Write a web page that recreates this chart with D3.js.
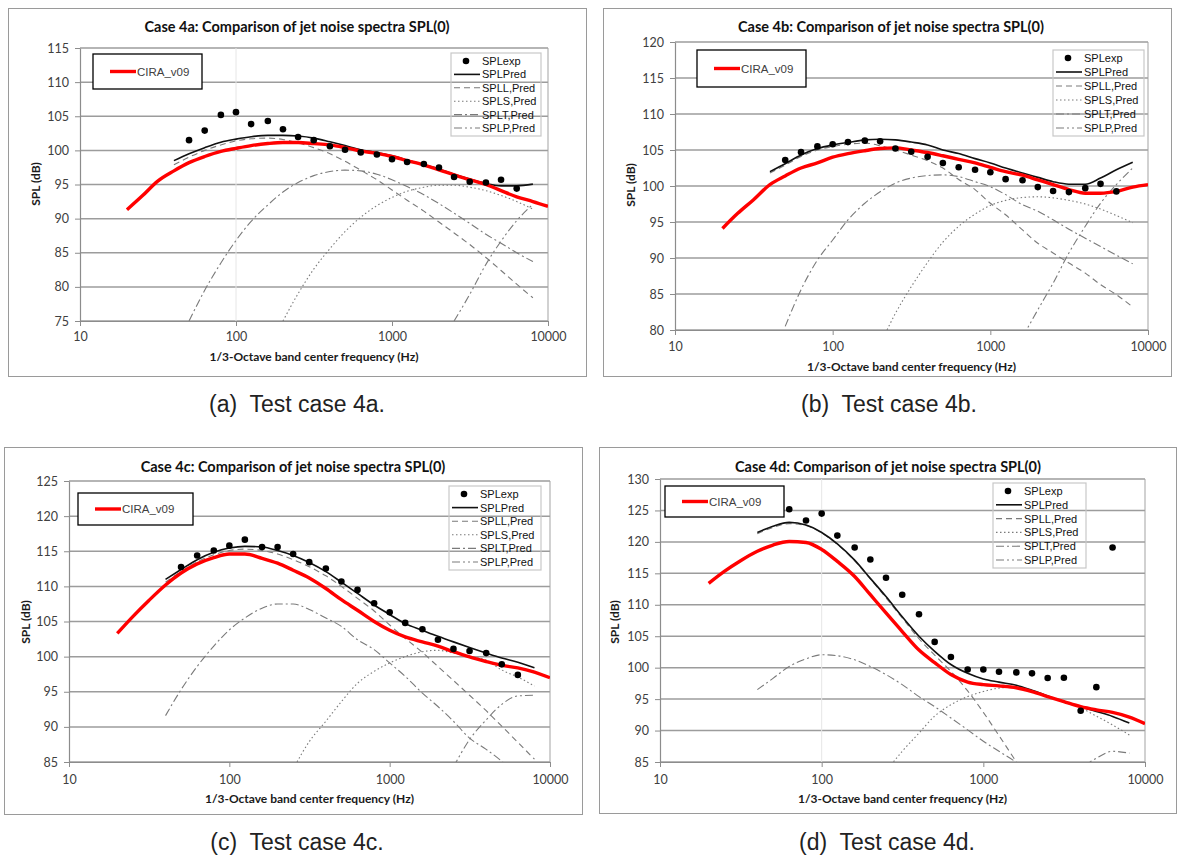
<!DOCTYPE html>
<html>
<head>
<meta charset="utf-8">
<script src="https://cdn.jsdelivr.net/npm/d3@7"></script>
<style>
  body { margin: 0; background: #fff; }
</style>
</head>
<body>
<svg id="fig" width="1177" height="856"></svg>
<script>
// 1/3-octave band centre frequencies (Hz)
var freqs = [20, 25, 31.5, 40, 50, 63, 80, 100, 125, 160, 200, 250, 315, 400, 500, 630,
             800, 1000, 1250, 1600, 2000, 2500, 3150, 4000, 5000, 6300, 8000, 10000];
var xTicks = [10, 100, 1000, 10000];

// ---- case 4a ----
var expA  = [101.5, 102.9, 105.2, 105.6, 103.85, 104.3, 103.1, 101.95, 101.5, 100.6, 100.1, 99.7, 99.4, 98.7, 98.3, 98.0, 97.5, 96.1, 95.4, 95.3, 95.7, 94.4];
var predA = [98.5, 99.5, 100.4, 101.2, 101.65, 102.0, 102.2, 102.2, 102.1, 101.8, 101.25, 100.7, 100.1, 99.7, 99.2, 98.6, 97.9, 97.25, 96.5, 95.8, 95.15, 94.8, 94.8, 95.05];
var ciraA = [91.3, 93.3, 95.5, 97.0, 98.2, 99.1, 99.85, 100.3, 100.7, 101.0, 101.15, 101.15, 101.0, 100.8, 100.4, 99.9, 99.55, 99.1, 98.5, 97.85, 97.15, 96.4, 95.7, 95.0, 94.1, 93.2, 92.5, 91.8];
var splLA = [97.9, 99.0, 100.0, 100.8, 101.4, 101.7, 101.8, 101.6, 101.1, 100.4, 99.5, 98.4, 97.1, 95.7, 94.2, 92.7, 91.1, 89.5, 87.9, 86.2, 84.3, 82.4, 80.4, 78.4];
var splSA = [75.0, 79.0, 82.6, 85.6, 88.1, 90.2, 91.9, 93.1, 94.0, 94.6, 94.9, 94.9, 94.6, 94.1, 93.4, 92.5, 91.4];
var splTA = [75.0, 79.5, 83.5, 86.8, 89.6, 92.0, 93.9, 95.3, 96.3, 96.9, 97.1, 97.0, 96.5, 95.7, 94.7, 93.5, 92.2, 90.8, 89.3, 87.7, 86.4, 85.0, 83.7];
var splPA = [75.0, 78.9, 83.3, 86.7, 89.7, 92.1];

// ---- case 4b ----
var expB  = [103.6, 104.7, 105.5, 105.8, 106.1, 106.3, 106.2, 105.2, 104.75, 104.05, 103.2, 102.6, 102.25, 101.9, 100.95, 100.8, 99.85, 99.3, 99.15, 99.7, 100.3, 99.25];
var predB = [102.0, 103.1, 104.3, 105.2, 105.7, 106.05, 106.4, 106.5, 106.4, 106.1, 105.7, 105.0, 104.5, 103.8, 103.2, 102.5, 101.8, 101.2, 100.6, 100.25, 100.25, 101.1, 102.25, 103.3];
var ciraB = [94.1, 96.2, 98.1, 100.2, 101.4, 102.5, 103.2, 104.0, 104.5, 104.9, 105.2, 105.3, 105.0, 104.65, 104.2, 103.7, 103.2, 102.6, 102.0, 101.5, 100.85, 100.2, 99.5, 99.0, 99.0, 99.25, 99.85, 100.2];
var splLB = [101.8, 102.9, 104.1, 105.0, 105.5, 105.8, 105.95, 105.6, 105.0, 104.3, 103.5, 102.5, 100.9, 99.5, 97.6, 96.0, 93.9, 92.05, 90.7, 89.3, 87.9, 86.3, 84.9, 83.2];
var splSB = [78.0, 82.3, 86.0, 89.4, 92.2, 94.4, 96.1, 97.3, 98.0, 98.4, 98.5, 98.35, 98.0, 97.5, 96.8, 95.9, 94.9];
var splTB = [80.5, 85.6, 89.7, 92.5, 95.3, 97.6, 99.2, 100.4, 101.1, 101.45, 101.55, 101.3, 100.6, 99.9, 98.8, 97.4, 96.5, 95.3, 94.0, 92.75, 91.6, 90.4, 89.2];
var splPB = [79.0, 82.8, 86.5, 90.7, 94.4, 97.6, 100.2, 102.5];

// ---- case 4c ----
var expC  = [112.75, 114.4, 115.1, 115.8, 116.65, 115.6, 115.6, 114.6, 113.45, 112.55, 110.7, 109.5, 107.6, 106.3, 104.8, 103.9, 102.4, 101.1, 100.8, 100.5, 98.9, 97.4];
var predC = [111.0, 112.4, 113.8, 114.85, 115.45, 115.7, 115.6, 115.1, 114.4, 113.4, 112.1, 110.6, 109.0, 107.35, 106.0, 104.7, 103.75, 102.9, 102.1, 101.3, 100.5, 99.8, 99.2, 98.4];
var ciraC = [103.3, 105.7, 108.0, 110.2, 111.9, 113.2, 114.1, 114.6, 114.6, 114.0, 113.3, 112.3, 111.2, 109.7, 108.1, 106.6, 105.0, 103.75, 102.8, 102.1, 101.5, 100.7, 99.95, 99.3, 98.75, 98.4, 97.8, 97.0];
var splLC = [110.6, 112.1, 113.5, 114.5, 115.1, 115.3, 115.1, 114.6, 113.8, 112.8, 111.5, 110.0, 108.3, 106.5, 104.5, 102.6, 100.6, 98.6, 96.6, 94.5, 92.3, 90.1, 87.8, 85.4];
var splSC = [84.0, 87.9, 90.8, 93.6, 96.2, 97.9, 99.1, 100.0, 100.7, 100.9, 100.5, 100.0, 99.5, 98.1, 97.1, 95.8];
var splTC = [91.6, 95.3, 98.6, 101.5, 103.8, 105.5, 106.9, 107.5, 107.5, 106.7, 105.5, 104.3, 102.4, 101.0, 99.1, 97.2, 94.8, 92.9, 90.8, 88.4, 86.8, 85.1, 83.0, 80.7];
var splPC = [84.3, 88.2, 91.0, 93.2, 94.4, 94.5];

// ---- case 4d ----
var expD  = [125.2, 123.4, 124.5, 121.0, 119.1, 117.2, 114.3, 111.6, 108.5, 104.1, 101.7, 99.7, 99.7, 99.35, 99.25, 99.1, 98.35, 98.4, 93.15, 96.9, 119.1];
var predD = [121.5, 122.5, 123.1, 122.7, 121.5, 119.7, 117.1, 114.2, 111.3, 108.1, 105.0, 102.6, 100.5, 99.1, 98.2, 97.7, 97.2, 96.4, 95.5, 94.6, 93.8, 93.05, 92.25, 91.2];
var ciraD = [113.4, 115.3, 117.0, 118.5, 119.5, 120.05, 119.9, 118.8, 116.9, 114.5, 111.6, 108.7, 105.75, 102.8, 100.8, 98.9, 97.7, 97.3, 97.1, 96.8, 96.2, 95.4, 94.6, 93.8, 93.3, 92.9, 92.15, 91.1];
var splLD = [121.3, 122.3, 122.9, 122.6, 121.4, 119.6, 117.0, 114.1, 111.1, 107.9, 104.6, 102.0, 99.4, 96.3, 92.9, 89.2, 85.0, 81.0];
var splSD = [83.5, 86.7, 89.6, 92.3, 94.1, 95.4, 96.2, 96.75, 96.9, 96.2, 95.4, 94.5, 93.6, 92.3, 90.9, 89.3];
var splTD = [96.5, 98.3, 100.2, 101.4, 102.05, 101.9, 101.25, 100.2, 98.9, 97.3, 95.4, 93.8, 92.0, 90.1, 88.3, 86.7, 84.95, 83.2];
var splPD = [84.0, 85.6, 86.7, 86.4];

var legendNames = ["SPLexp", "SPLPred", "SPLL,Pred", "SPLS,Pred", "SPLT,Pred", "SPLP,Pred"];

// start frequency of each series -> points
function pts(startFreq, values) {
  var i0 = freqs.indexOf(startFreq);
  return values.map(function (v, i) { return { f: freqs[i0 + i], v: v }; });
}

var dashOf = {
  "SPLL,Pred": "6,4",
  "SPLS,Pred": "1.5,2.5",
  "SPLT,Pred": "8,3,2,3",
  "SPLP,Pred": "8,3,2,3,2,3"
};

var panels = [
  { id: "a", title: "Case 4a: Comparison of jet noise spectra SPL(0)", caption: "(a)  Test case 4a.",
    frame: [8, 8, 586, 376], x0: 80, x1: 548, y0: 48, y1: 321, ymin: 75, ymax: 115,
    titleX: 297, titleY: 32, labY: 341, xtY: 361, ytX: 36, ytY: 184, capX: 297, capY: 412, vline: true,
    cira: [93, 54, 202, 89], leg: [451, 53, 541, 136],
    exp: pts(50, expA), pred: pts(40, predA), red: pts(20, ciraA),
    comps: [["SPLL,Pred", pts(40, splLA)], ["SPLS,Pred", pts(200, splSA)], ["SPLT,Pred", pts(50, splTA)], ["SPLP,Pred", pts(2500, splPA)]] },
  { id: "b", title: "Case 4b: Comparison of jet noise spectra SPL(0)", caption: "(b)  Test case 4b.",
    frame: [603, 8, 1171, 376], x0: 675, x1: 1148, y0: 42, y1: 330, ymin: 80, ymax: 120,
    titleX: 891, titleY: 32, labY: 351, xtY: 371, ytX: 631, ytY: 185, capX: 889, capY: 412, vline: false,
    cira: [697, 50, 806, 87], leg: [1053, 50, 1144, 136],
    exp: pts(50, expB), pred: pts(40, predB), red: pts(20, ciraB),
    comps: [["SPLL,Pred", pts(40, splLB)], ["SPLS,Pred", pts(200, splSB)], ["SPLT,Pred", pts(50, splTB)], ["SPLP,Pred", pts(1600, splPB)]] },
  { id: "c", title: "Case 4c: Comparison of jet noise spectra SPL(0)", caption: "(c)  Test case 4c.",
    frame: [4, 447, 582, 814], x0: 69, x1: 550, y0: 481, y1: 762, ymin: 85, ymax: 125,
    titleX: 293, titleY: 472, labY: 784, xtY: 803, ytX: 26, ytY: 622, capX: 297, capY: 850, vline: false,
    cira: [78, 493, 193, 525], leg: [449, 486, 541, 570],
    exp: pts(50, expC), pred: pts(40, predC), red: pts(20, ciraC),
    comps: [["SPLL,Pred", pts(40, splLC)], ["SPLS,Pred", pts(250, splSC)], ["SPLT,Pred", pts(40, splTC)], ["SPLP,Pred", pts(2500, splPC)]] },
  { id: "d", title: "Case 4d: Comparison of jet noise spectra SPL(0)", caption: "(d)  Test case 4d.",
    frame: [599, 447, 1176, 813], x0: 660, x1: 1145, y0: 479, y1: 762, ymin: 85, ymax: 130,
    titleX: 888, titleY: 472, labY: 784, xtY: 803, ytX: 615, ytY: 622, capX: 887, capY: 850, vline: true,
    cira: [665, 486, 784, 517], leg: [993, 483, 1086, 568],
    exp: pts(63, expD), pred: pts(40, predD), red: pts(20, ciraD),
    comps: [["SPLL,Pred", pts(40, splLD)], ["SPLS,Pred", pts(250, splSD)], ["SPLT,Pred", pts(40, splTD)], ["SPLP,Pred", pts(4000, splPD)]] }
];

var svg = d3.select("#fig");
var calib = "Lato, 'Open Sans', sans-serif";
var arial = "'Liberation Sans', Arial, sans-serif";

panels.forEach(drawPanel);

function drawPanel(p) {
  var g = svg.append("g").attr("id", "panel_" + p.id);

  // outer frame
  g.append("rect")
    .attr("x", p.frame[0] + 0.5).attr("y", p.frame[1] + 0.5)
    .attr("width", p.frame[2] - p.frame[0]).attr("height", p.frame[3] - p.frame[1])
    .attr("fill", "none").attr("stroke", "#9a9a9a").attr("stroke-width", 1);

  var x = d3.scaleLog().domain([10, 10000]).range([p.x0, p.x1]);
  var y = d3.scaleLinear().domain([p.ymin, p.ymax]).range([p.y1, p.y0]);
  var yTicks = d3.range(p.ymin, p.ymax + 0.1, 5);

  // gridlines
  g.append("g").selectAll("line").data(yTicks).enter().append("line")
    .attr("x1", p.x0).attr("x2", p.x1)
    .attr("y1", function (d) { return y(d); }).attr("y2", function (d) { return y(d); })
    .attr("stroke", "#9c9c9c").attr("stroke-width", 1.5);

  if (p.vline) {
    g.append("line").attr("x1", x(100)).attr("x2", x(100)).attr("y1", p.y0).attr("y2", p.y1)
      .attr("stroke", "#e6e6e6").attr("stroke-width", 1);
  }
  // right border of plot area
  g.append("line").attr("x1", p.x1).attr("x2", p.x1).attr("y1", p.y0).attr("y2", p.y1)
    .attr("stroke", "#a3a3a3").attr("stroke-width", 1);

  // axes
  var ya = g.append("g").attr("transform", "translate(" + p.x0 + ",0)")
    .call(d3.axisLeft(y).tickValues(yTicks).tickSizeInner(5).tickSizeOuter(0).tickPadding(6));
  var xa = g.append("g").attr("transform", "translate(0," + p.y1 + ")")
    .call(d3.axisBottom(x).tickValues(xTicks).tickFormat(d3.format("d")).tickSizeInner(5).tickSizeOuter(0).tickPadding(7));
  [ya, xa].forEach(function (a) {
    a.select(".domain").attr("stroke", "#8c8c8c").attr("stroke-width", 1.2);
    a.selectAll(".tick line").attr("stroke", "#8c8c8c");
    a.selectAll("text").attr("fill", "#404040").style("font-family", calib).style("font-size", "12.5px");
  });
  xa.selectAll("text").attr("dy", null).attr("y", p.labY - p.y1);

  // title and axis titles
  g.append("text").attr("x", p.titleX).attr("y", p.titleY).attr("text-anchor", "middle")
    .style("font-family", calib).style("font-weight", "bold").style("font-size", "14.5px")
    .attr("fill", "#111").text(p.title);
  g.append("text").attr("x", (p.x0 + p.x1) / 2).attr("y", p.xtY).attr("text-anchor", "middle")
    .style("font-family", calib).style("font-weight", "bold").style("font-size", "12px")
    .attr("fill", "#1a1a1a").text("1/3-Octave band center frequency (Hz)");
  g.append("text").attr("transform", "translate(" + (p.ytX + 4) + "," + p.ytY + ") rotate(-90)")
    .attr("text-anchor", "middle")
    .style("font-family", calib).style("font-weight", "bold").style("font-size", "12px")
    .attr("fill", "#1a1a1a").text("SPL (dB)");

  // clip for the series
  svg.append("clipPath").attr("id", "clip_" + p.id).append("rect")
    .attr("x", p.x0).attr("y", p.y0).attr("width", p.x1 - p.x0).attr("height", p.y1 - p.y0);
  var plot = g.append("g").attr("clip-path", "url(#clip_" + p.id + ")");

  var line = d3.line()
    .x(function (d) { return x(d.f); })
    .y(function (d) { return y(d.v); })
    .curve(d3.curveMonotoneX);

  p.comps.forEach(function (c) {
    plot.append("path").datum(c[1]).attr("d", line)
      .attr("fill", "none").attr("stroke", "#7a7a7a").attr("stroke-width", 1.1)
      .attr("stroke-dasharray", dashOf[c[0]]);
  });
  plot.append("path").datum(p.pred).attr("d", line)
    .attr("fill", "none").attr("stroke", "#111").attr("stroke-width", 1.6);
  plot.append("path").datum(p.red).attr("d", line)
    .attr("fill", "none").attr("stroke", "#ff0000").attr("stroke-width", 3.4);
  plot.selectAll("circle").data(p.exp).enter().append("circle")
    .attr("cx", function (d) { return x(d.f); })
    .attr("cy", function (d) { return y(d.v); })
    .attr("r", 3.3).attr("fill", "#000");

  // CIRA legend box
  var cb = p.cira;
  g.append("rect").attr("x", cb[0]).attr("y", cb[1]).attr("width", cb[2] - cb[0]).attr("height", cb[3] - cb[1])
    .attr("fill", "#fff").attr("stroke", "#000").attr("stroke-width", 1.3);
  var cy = (cb[1] + cb[3]) / 2;
  g.append("line").attr("x1", cb[0] + 17).attr("x2", cb[0] + 43).attr("y1", cy).attr("y2", cy)
    .attr("stroke", "#ff0000").attr("stroke-width", 3.4);
  g.append("text").attr("x", cb[0] + 44).attr("y", cy + 4)
    .style("font-family", arial).style("font-size", "11.5px").attr("fill", "#404040").text("CIRA_v09");

  // series legend
  var lb = p.leg;
  g.append("rect").attr("x", lb[0]).attr("y", lb[1]).attr("width", lb[2] - lb[0]).attr("height", lb[3] - lb[1])
    .attr("fill", "none").attr("stroke", "#c8c8c8").attr("stroke-width", 1.2);
  var step = (lb[3] - lb[1] - 16) / 5;
  legendNames.forEach(function (name, i) {
    var ry = lb[1] + 8 + i * step;
    if (name == "SPLexp") {
      g.append("circle").attr("cx", lb[0] + 15).attr("cy", ry).attr("r", 3.3).attr("fill", "#000");
    }
    else if (name == "SPLPred") {
      g.append("line").attr("x1", lb[0] + 3).attr("x2", lb[0] + 29).attr("y1", ry).attr("y2", ry)
        .attr("stroke", "#111").attr("stroke-width", 1.6);
    }
    else {
      g.append("line").attr("x1", lb[0] + 3).attr("x2", lb[0] + 29).attr("y1", ry).attr("y2", ry)
        .attr("stroke", "#7a7a7a").attr("stroke-width", 1.1).attr("stroke-dasharray", dashOf[name]);
    }
    g.append("text").attr("x", lb[0] + 31).attr("y", ry + 4)
      .style("font-family", arial).style("font-size", "11px").attr("fill", "#111").text(name);
  });

  // caption
  svg.append("text").attr("x", p.capX).attr("y", p.capY).attr("text-anchor", "middle")
    .style("font-family", arial).style("font-size", "23px").attr("fill", "#222")
    .attr("xml:space", "preserve").style("white-space", "pre").text(p.caption);
}
</script>
</body>
</html>
